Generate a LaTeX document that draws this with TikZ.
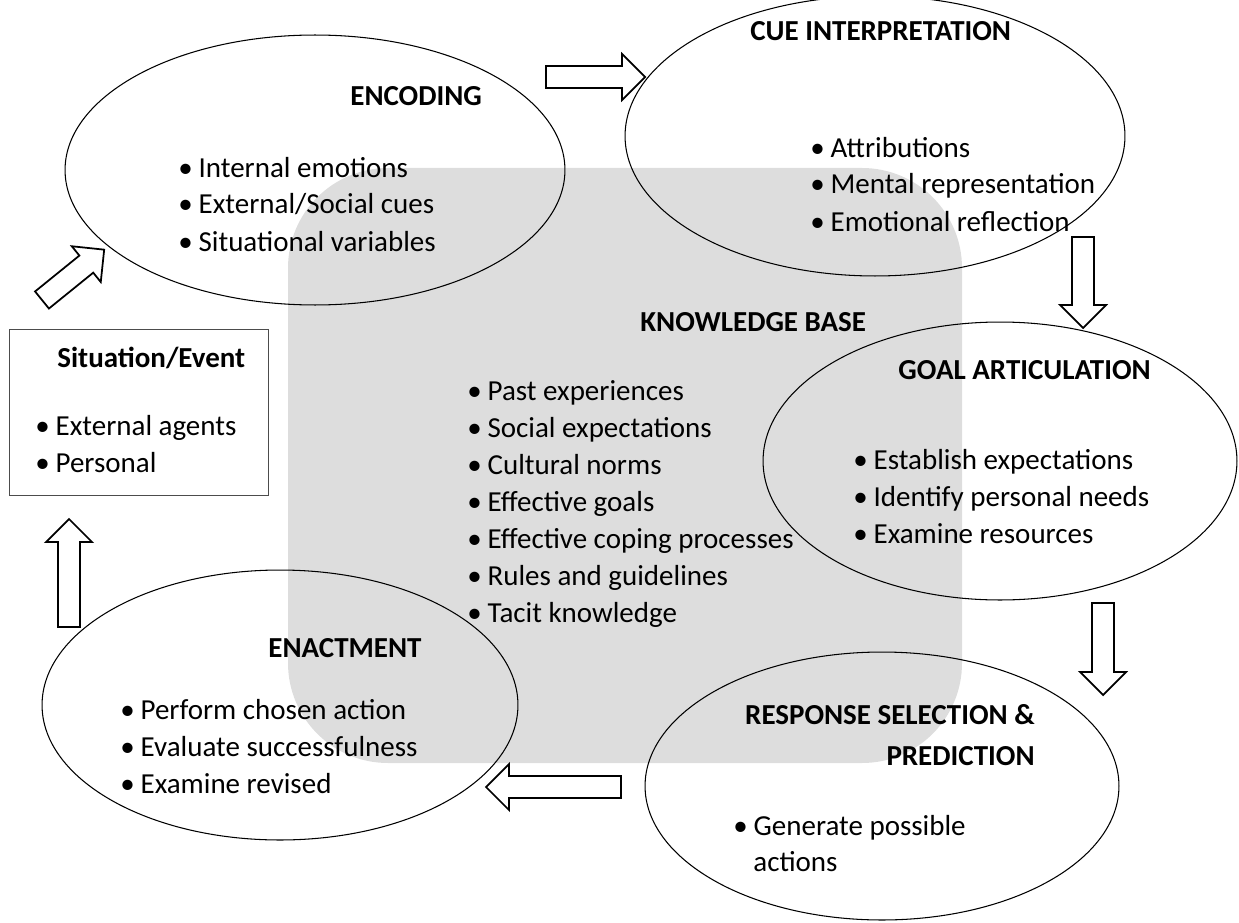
\documentclass[tikz,border=0pt]{standalone}
\usepackage{fontspec}
\setmainfont{Carlito}
\usetikzlibrary{shapes.geometric}
\definecolor{kbgrey}{HTML}{DDDDDD}
\begin{document}
\begin{tikzpicture}[x=0.02cm,y=-0.02cm,
    stage/.style={draw,ellipse,line width=0.6pt,inner sep=0pt},
    txt/.style={anchor=base west,inner sep=0pt,font=\fontsize{16.5}{20}\selectfont},
    item/.style={txt,execute at begin node={\makebox[0.7em][l]{\textbullet}}},
    head/.style={txt,font=\fontsize{16.5}{20}\selectfont\bfseries},
    pics/blockarrow/.style={code={
        \draw[line width=1pt,fill=white] (0,-11) -- (#1-23,-11) -- (#1-23,-23) -- (#1,0) -- (#1-23,23) -- (#1-23,11) -- (0,11) -- cycle;}}]
    \useasboundingbox (0,0) rectangle (1239,922);
    % knowledge base
    \fill[kbgrey,rounded corners=2cm] (288,168) rectangle (962,763);
    \node[head] (kbtitle) at (640,331) {KNOWLEDGE BASE};
    \foreach \t [count=\i] in {Past experiences,Social expectations,Cultural norms,Effective goals,Effective coping processes,Rules and guidelines,Tacit knowledge}
        \node[item] (kb\i) at (467,400+37*\i-37) {\t};
    % stages
    \node[stage,minimum width=10cm,minimum height=5.4cm] (encoding) at (315,170) {};
    \node[stage,minimum width=10cm,minimum height=5.6cm] (cue) at (875,136) {};
    \node[stage,minimum width=9.48cm,minimum height=5.56cm] (goal) at (1000,461) {};
    \node[stage,minimum width=9.48cm,minimum height=5.36cm] (response) at (882,786) {};
    \node[stage,minimum width=9.52cm,minimum height=5.4cm] (enactment) at (280,705) {};
    \draw[line width=0.5pt,draw=black!70] (9,329) rectangle (268,495); % situation box
    % encoding
    \node[head] (enctitle) at (350,106) {ENCODING};
    \foreach \t [count=\i] in {Internal emotions,External/Social cues,Situational variables}
        \node[item] (enc\i) at (178,177+37*\i-37) {\t};
    % cue interpretation
    \node[head] (cuetitle) at (750,41) {CUE INTERPRETATION};
    \foreach \t [count=\i] in {Attributions,Mental representation,Emotional reflection}
        \node[item] (cue\i) at (810,157+37*\i-37) {\t};
    % goal articulation
    \node[head] (goaltitle) at (898,379) {GOAL ARTICULATION};
    \foreach \t [count=\i] in {Establish expectations,Identify personal needs,Examine resources}
        \node[item] (goal\i) at (853,469+37*\i-37) {\t};
    % response selection
    \node[head,anchor=base east] (restitle1) at (1035,724) {RESPONSE SELECTION \&};
    \node[head,anchor=base east] (restitle2) at (1035,765) {PREDICTION};
    \node[item] (res1) at (733,835) {Generate possible};
    \node[txt] (res2) at (753,871) {actions};
    % enactment
    \node[head] (enacttitle) at (268,657) {ENACTMENT};
    \foreach \t [count=\i] in {Perform chosen action,Evaluate successfulness,Examine revised}
        \node[item] (enact\i) at (120,719+37*\i-37) {\t};
    % situation
    \node[head] (sittitle) at (57,367) {Situation/Event};
    \foreach \t [count=\i] in {External agents,Personal}
        \node[item] (sit\i) at (35,435+37*\i-37) {\t};
    % block arrows
    \pic at (546,77) {blockarrow=99};
    \pic[rotate=-90] at (1083,237) {blockarrow=91};
    \pic[rotate=-90] at (1103,603) {blockarrow=92};
    \pic[rotate=180] at (621,787) {blockarrow=135};
    \pic[rotate=90] at (69,627) {blockarrow=108};
    \pic[rotate=39] at (42,300) {blockarrow=80};
\end{tikzpicture}
\end{document}
